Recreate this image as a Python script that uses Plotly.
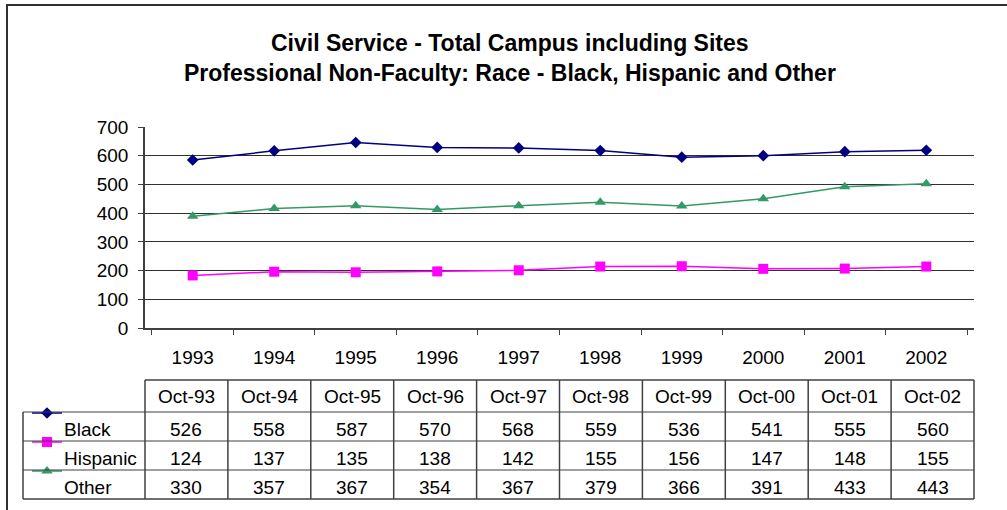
import plotly.graph_objects as go

# ---------------- data ----------------
years = ["1993", "1994", "1995", "1996", "1997", "1998", "1999", "2000", "2001", "2002"]
table_cols = ["Oct-93", "Oct-94", "Oct-95", "Oct-96", "Oct-97", "Oct-98", "Oct-99", "Oct-00", "Oct-01", "Oct-02"]
series_names = ["Black", "Hispanic", "Other"]

# values printed in the data table
black_table = [526, 558, 587, 570, 568, 559, 536, 541, 555, 560]
hispanic_table = [124, 137, 135, 138, 142, 155, 156, 147, 148, 155]
other_table = [330, 357, 367, 354, 367, 379, 366, 391, 433, 443]

# values as drawn by the lines
black_plot = [585, 617, 646, 629, 627, 618, 595, 600, 614, 619]
hispanic_plot = [183, 196, 194, 197, 201, 214, 215, 206, 207, 214]
other_plot = [389, 416, 426, 413, 426, 438, 425, 450, 492, 502]

y_ticks = [0, 100, 200, 300, 400, 500, 600, 700]

title_lines = ["Civil Service - Total Campus including Sites",
               "Professional Non-Faculty: Race - Black, Hispanic and Other"]

# ---------------- styling ----------------
W, H = 1007, 510
FONT = "Liberation Sans, Arial, sans-serif"
FS = 19
TFS = 23
colors = ["#000080", "#FF00FF", "#339966"]
symbols = ["diamond", "square", "triangle-up"]
msizes = [9, 10, 10]

def X(px):
    return px / W

def Y(py):
    return 1 - py / H

plot_left, plot_right = 145, 974
plot_top, plot_bottom = 127, 328

fig = go.Figure()

plot_vals = [black_plot, hispanic_plot, other_plot]
for name, vals, c, s, ms in zip(series_names, plot_vals, colors, symbols, msizes):
    fig.add_trace(go.Scatter(
        x=years, y=vals, name=name, mode="lines+markers",
        line=dict(color=c, width=1.5),
        marker=dict(symbol=s, size=ms, color=c),
        showlegend=False, xaxis="x", yaxis="y"))

# ---------------- table ----------------
shapes = []
annotations = []
tbl_left = 23
hdr_top = 380
row_tops = [412, 441, 470]
tbl_bottom = 499
line_col = "#404040"

ncol = len(table_cols)
col_w = (plot_right - plot_left) / ncol
col_edges = [plot_left + i * col_w for i in range(ncol + 1)]

shapes.append(dict(type="line", xref="paper", yref="paper", x0=X(plot_left), x1=X(plot_right),
                   y0=Y(hdr_top), y1=Y(hdr_top), line=dict(color=line_col, width=1.5)))
for rt in row_tops:
    shapes.append(dict(type="line", xref="paper", yref="paper", x0=X(tbl_left), x1=X(plot_right),
                       y0=Y(rt), y1=Y(rt), line=dict(color=line_col, width=1.2)))
shapes.append(dict(type="line", xref="paper", yref="paper", x0=X(tbl_left), x1=X(plot_right),
                   y0=Y(tbl_bottom), y1=Y(tbl_bottom), line=dict(color=line_col, width=1.5)))
shapes.append(dict(type="line", xref="paper", yref="paper", x0=X(tbl_left), x1=X(tbl_left),
                   y0=Y(row_tops[0]), y1=Y(tbl_bottom), line=dict(color=line_col, width=1.5)))
for ce in col_edges:
    shapes.append(dict(type="line", xref="paper", yref="paper", x0=X(ce), x1=X(ce),
                       y0=Y(hdr_top), y1=Y(tbl_bottom), line=dict(color=line_col, width=1.5)))

for i, lab in enumerate(table_cols):
    cx = (col_edges[i] + col_edges[i + 1]) / 2
    annotations.append(dict(xref="paper", yref="paper", x=X(cx), y=Y(396), text=lab,
                            showarrow=False, xanchor="center", yanchor="middle",
                            font=dict(family=FONT, size=FS, color="black")))
table_vals = [black_table, hispanic_table, other_table]
row_h = row_tops[1] - row_tops[0]
for r, (name, vals) in enumerate(zip(series_names, table_vals)):
    cy = row_tops[r] + row_h / 2 + 3
    annotations.append(dict(xref="paper", yref="paper", x=X(62), y=Y(cy), text=name,
                            showarrow=False, xanchor="left", yanchor="middle",
                            font=dict(family=FONT, size=FS, color="black")))
    for i, v in enumerate(vals):
        cx = (col_edges[i] + col_edges[i + 1]) / 2
        annotations.append(dict(xref="paper", yref="paper", x=X(cx), y=Y(cy), text=str(v),
                                showarrow=False, xanchor="center", yanchor="middle",
                                font=dict(family=FONT, size=FS, color="black")))

for r, (c, s, ms) in enumerate(zip(colors, symbols, msizes)):
    ky = row_tops[r] + 1
    fig.add_trace(go.Scatter(x=[32, 62], y=[ky, ky], mode="lines", line=dict(color=c, width=1.5),
                             showlegend=False, hoverinfo="skip", xaxis="x3", yaxis="y3"))
    fig.add_trace(go.Scatter(x=[47], y=[ky], mode="markers", marker=dict(symbol=s, size=ms, color=c),
                             showlegend=False, hoverinfo="skip", xaxis="x3", yaxis="y3"))

for ty, txt in zip([42.5, 73], title_lines):
    annotations.append(dict(xref="paper", yref="paper", x=X(510), y=Y(ty),
                            text="<b>" + txt + "</b>",
                            showarrow=False, xanchor="center", yanchor="middle",
                            font=dict(family=FONT, size=TFS, color="black")))

shapes.append(dict(type="rect", xref="paper", yref="paper", x0=X(7), x1=X(1015), y0=Y(5), y1=Y(520),
                   line=dict(color="#303030", width=2)))

fig.update_layout(
    width=W, height=H,
    margin=dict(l=0, r=0, t=0, b=0, pad=0),
    paper_bgcolor="white", plot_bgcolor="rgba(0,0,0,0)",
    font=dict(family=FONT, size=FS, color="black"),
    shapes=shapes, annotations=annotations,
    xaxis=dict(domain=[X(plot_left), X(plot_right)], type="category",
               tickson="boundaries", ticks="outside", ticklen=5, tickcolor="#404040",
               showline=True, linecolor="#404040", linewidth=1.5, showgrid=False,
               ticklabelstandoff=11, tickfont=dict(family=FONT, size=FS, color="black"),
               anchor="y", fixedrange=True, automargin=False),
    yaxis=dict(domain=[Y(plot_bottom), Y(plot_top)], range=[0, 700],
               tickvals=y_ticks, ticks="outside", ticklen=5, tickcolor="#404040",
               showline=True, linecolor="#404040", linewidth=1.5,
               showgrid=True, gridcolor="#303030", gridwidth=1, zeroline=False,
               ticklabelstandoff=6, tickfont=dict(family=FONT, size=FS, color="black"),
               anchor="x", fixedrange=True, automargin=False),
    xaxis3=dict(domain=[0, 1], range=[0, W], visible=False, anchor="y3", fixedrange=True, automargin=False),
    yaxis3=dict(domain=[0, 1], range=[H, 0], visible=False, anchor="x3", fixedrange=True, automargin=False),
)

fig.write_html("out.html", config={"displayModeBar": False},
               post_script="document.body.style.margin='0px';")
